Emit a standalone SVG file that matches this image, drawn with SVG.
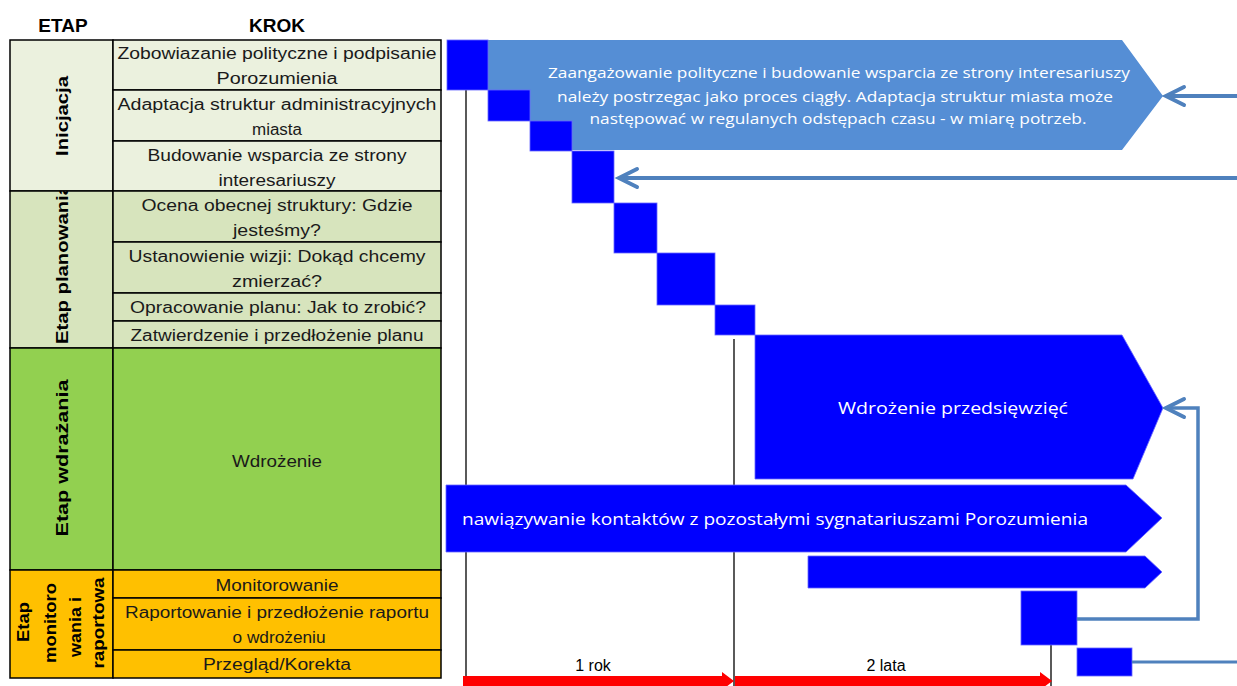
<svg xmlns="http://www.w3.org/2000/svg" width="1237" height="686" viewBox="0 0 1237 686">
<style>
.cell{stroke:#000;stroke-width:1.5}
.ini{fill:#EBF1DE}
.pla{fill:#D7E4BD}
.wdr{fill:#92D050}
.mon{fill:#FFC000}
.t{font-family:"Liberation Sans",Arial,sans-serif;font-size:16px;fill:#1a1a1a;text-anchor:middle}
.h{font-family:"Liberation Sans",Arial,sans-serif;font-size:19px;font-weight:bold;fill:#000;text-anchor:middle}
.v{font-family:"Liberation Sans",Arial,sans-serif;font-size:17px;font-weight:bold;fill:#000;text-anchor:middle}
.vm{font-family:"Liberation Sans",Arial,sans-serif;font-size:17px;font-weight:bold;fill:#000;text-anchor:middle}
.sq{fill:#0000FF;stroke:#6666FF;stroke-width:0.8}
.w{font-family:"Open Sans","Liberation Sans",sans-serif;fill:#FFFFFF;text-anchor:middle}
.conn{fill:none;stroke:#4F81BD}
.vl{stroke:#000;stroke-width:1.3}
.lbl{font-family:"Liberation Sans",Arial,sans-serif;font-size:16px;fill:#000;text-anchor:middle}
</style>
<defs>
<marker id="chev" markerUnits="userSpaceOnUse" markerWidth="20" markerHeight="24" refX="0" refY="0" orient="auto" style="overflow:visible">
<path d="M-18,-9 L0,0 L-18,9" fill="none" stroke="#4F81BD" stroke-width="4" stroke-linecap="round" stroke-linejoin="miter"/>
</marker>
<clipPath id="clipPla"><rect x="10" y="191" width="103" height="157"/></clipPath>
</defs>

<g id="headers">
<text class="h" x="63" y="32">ETAP</text>
<text class="h" x="277" y="32">KROK</text>
</g>

<g id="etap-inicjacja">
<rect class="cell ini" x="10" y="40" width="103" height="151"/>
<text class="v" transform="translate(68,116) rotate(-90)" textLength="80" lengthAdjust="spacingAndGlyphs">Inicjacja</text>
</g>
<g id="etap-planowania">
<rect class="cell pla" x="10" y="191" width="103" height="157"/>
<g clip-path="url(#clipPla)">
<text class="v" transform="translate(68,264) rotate(-90)" textLength="160" lengthAdjust="spacingAndGlyphs">Etap planowania</text>
</g>
</g>
<g id="etap-wdrazania">
<rect class="cell wdr" x="10" y="348" width="103" height="222"/>
<text class="v" transform="translate(68,458) rotate(-90)" textLength="157" lengthAdjust="spacingAndGlyphs">Etap wdrażania</text>
</g>
<g id="etap-monitorowania">
<rect class="cell mon" x="10" y="570" width="103" height="108"/>
<text class="vm" transform="translate(29,622) rotate(-90)" textLength="40" lengthAdjust="spacingAndGlyphs">Etap</text>
<text class="vm" transform="translate(56,623) rotate(-90)" textLength="80" lengthAdjust="spacingAndGlyphs">monitoro</text>
<text class="vm" transform="translate(81,627) rotate(-90)" textLength="60" lengthAdjust="spacingAndGlyphs">wania i</text>
<text class="vm" transform="translate(104,623) rotate(-90)" textLength="91" lengthAdjust="spacingAndGlyphs">raportowa</text>
</g>

<g id="krok-1">
<rect class="cell ini" x="113" y="40" width="328" height="50"/>
<text class="t" x="277" y="59" textLength="319" lengthAdjust="spacingAndGlyphs">Zobowiazanie polityczne i podpisanie</text>
<text class="t" x="277" y="84" textLength="121" lengthAdjust="spacingAndGlyphs">Porozumienia</text>
</g>
<g id="krok-2">
<rect class="cell ini" x="113" y="90" width="328" height="51"/>
<text class="t" x="277" y="110" textLength="319" lengthAdjust="spacingAndGlyphs">Adaptacja struktur administracyjnych</text>
<text class="t" x="277" y="135" textLength="50" lengthAdjust="spacingAndGlyphs">miasta</text>
</g>
<g id="krok-3">
<rect class="cell ini" x="113" y="141" width="328" height="50"/>
<text class="t" x="277" y="161" textLength="259" lengthAdjust="spacingAndGlyphs">Budowanie wsparcia ze strony</text>
<text class="t" x="277" y="186" textLength="117" lengthAdjust="spacingAndGlyphs">interesariuszy</text>
</g>
<g id="krok-4">
<rect class="cell pla" x="113" y="191" width="328" height="51"/>
<text class="t" x="277" y="211" textLength="271" lengthAdjust="spacingAndGlyphs">Ocena obecnej struktury: Gdzie</text>
<text class="t" x="277" y="236" textLength="88" lengthAdjust="spacingAndGlyphs">jesteśmy?</text>
</g>
<g id="krok-5">
<rect class="cell pla" x="113" y="242" width="328" height="51"/>
<text class="t" x="277" y="262" textLength="297" lengthAdjust="spacingAndGlyphs">Ustanowienie wizji: Dokąd chcemy</text>
<text class="t" x="277" y="287" textLength="90" lengthAdjust="spacingAndGlyphs">zmierzać?</text>
</g>
<g id="krok-6">
<rect class="cell pla" x="113" y="293" width="328" height="28"/>
<text class="t" x="278" y="313" textLength="296" lengthAdjust="spacingAndGlyphs">Opracowanie planu: Jak to zrobić?</text>
</g>
<g id="krok-7">
<rect class="cell pla" x="113" y="321" width="328" height="27"/>
<text class="t" x="277" y="341" textLength="293" lengthAdjust="spacingAndGlyphs">Zatwierdzenie i przedłożenie planu</text>
</g>
<g id="krok-8">
<rect class="cell wdr" x="113" y="348" width="328" height="222"/>
<text class="t" x="277" y="467" textLength="90" lengthAdjust="spacingAndGlyphs">Wdrożenie</text>
</g>
<g id="krok-9">
<rect class="cell mon" x="113" y="570" width="328" height="28"/>
<text class="t" x="277" y="591" textLength="123" lengthAdjust="spacingAndGlyphs">Monitorowanie</text>
</g>
<g id="krok-10">
<rect class="cell mon" x="113" y="598" width="328" height="52"/>
<text class="t" x="277" y="618" textLength="304" lengthAdjust="spacingAndGlyphs">Raportowanie i przedłożenie raportu</text>
<text class="t" x="279" y="643" textLength="93" lengthAdjust="spacingAndGlyphs">o wdrożeniu</text>
</g>
<g id="krok-11">
<rect class="cell mon" x="113" y="650" width="328" height="28"/>
<text class="t" x="277" y="670" textLength="148" lengthAdjust="spacingAndGlyphs">Przegląd/Korekta</text>
</g>

<g id="timeline-lines">
<line class="vl" x1="466" y1="90" x2="466" y2="686"/>
<line class="vl" x1="734" y1="339" x2="734" y2="686"/>
<line class="vl" x1="1051" y1="645" x2="1051" y2="686"/>
</g>

<g id="proces-ciagly">
<polygon points="488,40 1122,40 1163,96 1122,150 572,150 572,121 530,121 530,90 488,90" fill="#558ED5"/>
<text class="w" x="839" y="78" font-size="14" textLength="582" lengthAdjust="spacingAndGlyphs">Zaangażowanie  polityczne i budowanie  wsparcia ze strony interesariuszy</text>
<text class="w" x="835" y="102" font-size="14" textLength="556" lengthAdjust="spacingAndGlyphs">należy postrzegac jako proces ciągły. Adaptacja struktur miasta może</text>
<text class="w" x="838" y="124" font-size="14" textLength="497" lengthAdjust="spacingAndGlyphs">następować w regulanych odstępach czasu - w miarę  potrzeb.</text>
</g>

<g id="krok-bloki">
<rect class="sq" x="447" y="40" width="41" height="50"/>
<rect class="sq" x="488" y="90" width="42" height="31"/>
<rect class="sq" x="530" y="121" width="42" height="30"/>
<rect class="sq" x="572" y="151" width="42" height="52"/>
<rect class="sq" x="614" y="203" width="43" height="50"/>
<rect class="sq" x="657" y="253" width="58" height="52"/>
<rect class="sq" x="715" y="305" width="40" height="30"/>
<rect class="sq" x="1021" y="591" width="56" height="54"/>
<rect class="sq" x="1077" y="648" width="55" height="28"/>
</g>

<g id="wdrozenie-przedsiewziec">
<polygon points="755,335 1122,335 1163,408 1133,479 755,479" fill="#0000FF" stroke="#6666FF" stroke-width="0.8"/>
<text class="w" x="953" y="414" font-size="17" textLength="230" lengthAdjust="spacingAndGlyphs">Wdrożenie przedsięwzięć</text>
</g>

<g id="nawiazywanie-kontaktow">
<polygon points="446,485 1126,485 1162,518 1126,552 446,552" fill="#0000FF" stroke="#6666FF" stroke-width="0.8"/>
<text class="w" x="775" y="525" font-size="17" textLength="626" lengthAdjust="spacingAndGlyphs">nawiązywanie kontaktów z pozostałymi sygnatariuszami Porozumienia</text>
</g>

<g id="monitorowanie-bar">
<polygon points="808,556 1145,556 1162,572 1145,588 808,588" fill="#0000FF" stroke="#6666FF" stroke-width="0.8"/>
</g>

<g id="connectors">
<line class="conn" x1="1237" y1="96" x2="1166" y2="96" stroke-width="4" marker-end="url(#chev)"/>
<line class="conn" x1="1237" y1="178" x2="619" y2="178" stroke-width="4" marker-end="url(#chev)"/>
<path class="conn" d="M1077,619 H1198 V408 H1166" stroke-width="3.5" marker-end="url(#chev)"/>
<line class="conn" x1="1132" y1="662" x2="1237" y2="662" stroke-width="3"/>
</g>

<g id="skala-czasu">
<polygon points="463,676 722,676 722,672 734,681 722,690 722,686 463,686" fill="#FF0000"/>
<polygon points="735,676 1040,676 1040,672 1052,681 1040,690 1040,686 735,686" fill="#FF0000"/>
<text class="lbl" x="593" y="671">1 rok</text>
<text class="lbl" x="886" y="671">2 lata</text>
</g>
</svg>
